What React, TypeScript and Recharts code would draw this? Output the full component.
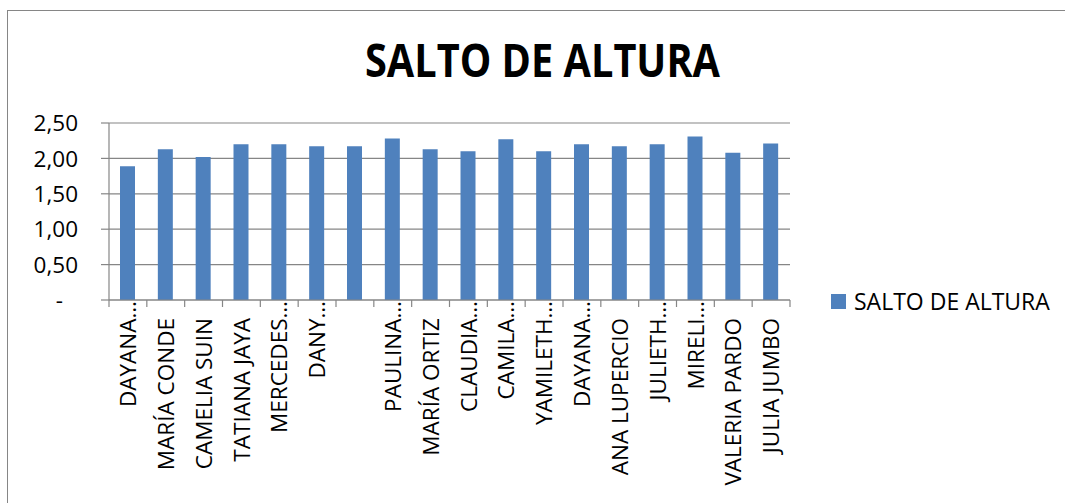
import React from "react";
import { BarChart, Bar, XAxis, YAxis, CartesianGrid, Legend } from "recharts";

const title = "SALTO DE ALTURA";
const seriesName = "SALTO DE ALTURA";
const categories = [
  "DAYANA…", "MARÍA CONDE", "CAMELIA SUIN", "TATIANA JAYA", "MERCEDES…", "DANY…", "",
  "PAULINA…", "MARÍA ORTIZ", "CLAUDIA…", "CAMILA…", "YAMILETH…", "DAYANA…",
  "ANA LUPERCIO", "JULIETH…", "MIRELI…", "VALERIA PARDO", "JULIA JUMBO",
];
const values = [1.89, 2.13, 2.02, 2.2, 2.2, 2.17, 2.17, 2.28, 2.13, 2.1, 2.27, 2.1, 2.2, 2.17, 2.2, 2.31, 2.08, 2.21];
const yTicks = [0, 0.5, 1, 1.5, 2, 2.5];
const yTickLabels = ["-", "0,50", "1,00", "1,50", "2,00", "2,50"];

const data = categories.map((name, i) => ({ name, value: values[i] }));

const FONT = "'Open Sans', sans-serif";
const GRAY = "#868686";
const BLUE = "#4F81BD";

const YTick = (props: any) => {
  const { x, y, payload } = props;
  const idx = yTicks.indexOf(payload.value);
  const label = idx >= 0 ? yTickLabels[idx] : String(payload.value);
  const dx = payload.value === 0 ? -15 : 0;
  return (
    <text x={x + dx} y={y} dy="0.36em" textAnchor="end" fontFamily={FONT} fontSize={22.5} fill="#000">
      {label}
    </text>
  );
};

const XTick = (props: any) => {
  const { x, y, payload, width, visibleTicksCount, index } = props;
  const label = String(payload?.value ?? "");
  const truncated = label.endsWith("…");
  const baseY = y;
  const ay = baseY + (truncated ? 1 : 18);
  const half = width && visibleTicksCount ? width / visibleTicksCount / 2 : 0;
  return (
    <g>
      <line x1={x - half} x2={x - half} y1={baseY} y2={baseY + 7} stroke={GRAY} strokeWidth={1.2} />
      {index === visibleTicksCount - 1 && (
        <line x1={x + half} x2={x + half} y1={baseY} y2={baseY + 7} stroke={GRAY} strokeWidth={1.2} />
      )}
      <text
        x={x}
        y={ay}
        dy="0.36em"
        textAnchor="end"
        transform={`rotate(-90, ${x}, ${ay})`}
        fontFamily={FONT}
        fontSize={22.5}
        fill="#000"
      >
        {label}
      </text>
    </g>
  );
};

const LegendContent = () => (
  <div style={{ display: "flex", alignItems: "center", fontFamily: FONT, fontSize: 23, lineHeight: "30px", color: "#000", whiteSpace: "nowrap" }}>
    <span style={{ display: "inline-block", width: 15, height: 15, background: BLUE, marginRight: 8 }} />
    {seriesName}
  </div>
);

export default function App() {
  return (
    <div style={{ position: "absolute", left: 0, top: 0, width: 1065, height: 503, background: "#fff", overflow: "hidden" }}>
      <div
        style={{
          position: "absolute",
          left: 7,
          top: 10,
          width: 1065,
          height: 503,
          borderTop: `1.5px solid ${GRAY}`,
          borderLeft: `1.5px solid ${GRAY}`,
          boxSizing: "border-box",
        }}
      />
      <svg style={{ position: "absolute", left: 0, top: 0 }} width={1065} height={100}>
        <text
          x={542.5}
          y={76.5}
          textAnchor="middle"
          fontFamily={FONT}
          fontWeight={700}
          fontSize={46}
          textLength={355}
          lengthAdjust="spacingAndGlyphs"
          fill="#000"
        >
          {title}
        </text>
      </svg>
      <div style={{ position: "absolute", left: 0, top: 0 }}>
        <BarChart width={1065} height={503} data={data} margin={{ top: 123, right: 275, bottom: 202, left: 0 }}>
          <CartesianGrid vertical={false} stroke={GRAY} strokeWidth={1.2} />
          <YAxis
            domain={[0, 2.5]}
            ticks={yTicks}
            width={109}
            tickSize={8}
            tickMargin={23}
            axisLine={{ stroke: GRAY, strokeWidth: 1.2 }}
            tickLine={{ stroke: GRAY, strokeWidth: 1.2 }}
            tick={<YTick />}
            interval={0}
          />
          <XAxis
            dataKey="name"
            interval={0}
            height={1}
            axisLine={{ stroke: GRAY, strokeWidth: 1.2 }}
            tickLine={false}
            tickSize={0}
            tickMargin={0}
            tick={<XTick />}
          />
          <Bar dataKey="value" name={seriesName} fill={BLUE} barSize={15} isAnimationActive={false} />
          <Legend
            layout="vertical"
            align="center"
            verticalAlign="middle"
            wrapperStyle={{ position: "absolute", left: 831, top: 286, width: "auto" }}
            content={<LegendContent />}
          />
        </BarChart>
      </div>
    </div>
  );
}
